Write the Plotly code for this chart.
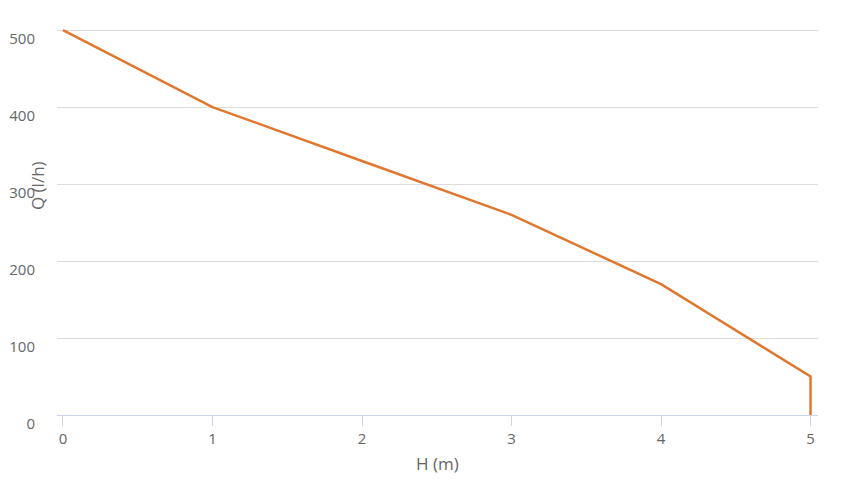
import plotly.graph_objects as go

h_values = [0, 1, 2, 3, 4, 5, 5]
q_values = [500, 400, 330, 260, 170, 50, 0]
x_ticks = [0, 1, 2, 3, 4, 5]
y_ticks = [0, 100, 200, 300, 400, 500]

font_family = "Open Sans, Segoe UI, sans-serif"
label_color = "#666666"

# the page body has an 8px margin, so offsets are compensated
OFF = 8
W, H = 857 - OFF, 494 - OFF
Y_TOP = 504
L, R, B = 57 - OFF, 39, 79
T = (30 - OFF) - 385 * (Y_TOP - 500) / 500

fig = go.Figure()
fig.add_trace(go.Scatter(
    x=h_values, y=q_values, mode="lines",
    line=dict(color="#e0772f", width=2.5),
    hoverinfo="x+y", showlegend=False,
))

pw = W - L - R
ph = H - T - B


def px_to_paper(px, py):
    # px, py in screenshot pixels (top-left origin)
    return (px - OFF - L) / pw, 1 - (py - OFF - T) / ph


hx, hy = px_to_paper(437, 464)
qx, qy = px_to_paper(37, 186)

fig.update_layout(
    width=W, height=H,
    margin=dict(l=L, r=R, t=T, b=B, autoexpand=False),
    paper_bgcolor="white", plot_bgcolor="white",
    font=dict(family=font_family, size=15, color=label_color),
    xaxis=dict(
        range=[-0.04, 5.05], tickvals=x_ticks, ticktext=[str(v) for v in x_ticks],
        showgrid=False, zeroline=False, automargin=False,
        showline=True, linecolor="#ccd6eb", linewidth=1,
        ticks="outside", ticklen=10, tickcolor="#ccd6eb", tickwidth=1,
        tickfont=dict(size=15, color=label_color),
    ),
    yaxis=dict(
        range=[0, Y_TOP], tickvals=y_ticks, ticktext=[str(v) for v in y_ticks],
        showgrid=True, gridcolor="#dcdcdc", gridwidth=1, zeroline=False,
        showline=False, ticks="", automargin=False,
        tickfont=dict(size=15, color=label_color),
        ticklabelstandoff=21, ticklabelshift=9,
    ),
    annotations=[
        dict(text="H (m)", x=hx, y=hy, xref="paper", yref="paper",
             xanchor="center", yanchor="middle",
             showarrow=False, font=dict(size=17, color=label_color)),
        dict(text="Q (l/h)", x=qx, y=qy, xref="paper", yref="paper",
             xanchor="center", yanchor="middle",
             showarrow=False, textangle=-90, font=dict(size=17, color=label_color)),
    ],
)

fig.write_html("out.html")
